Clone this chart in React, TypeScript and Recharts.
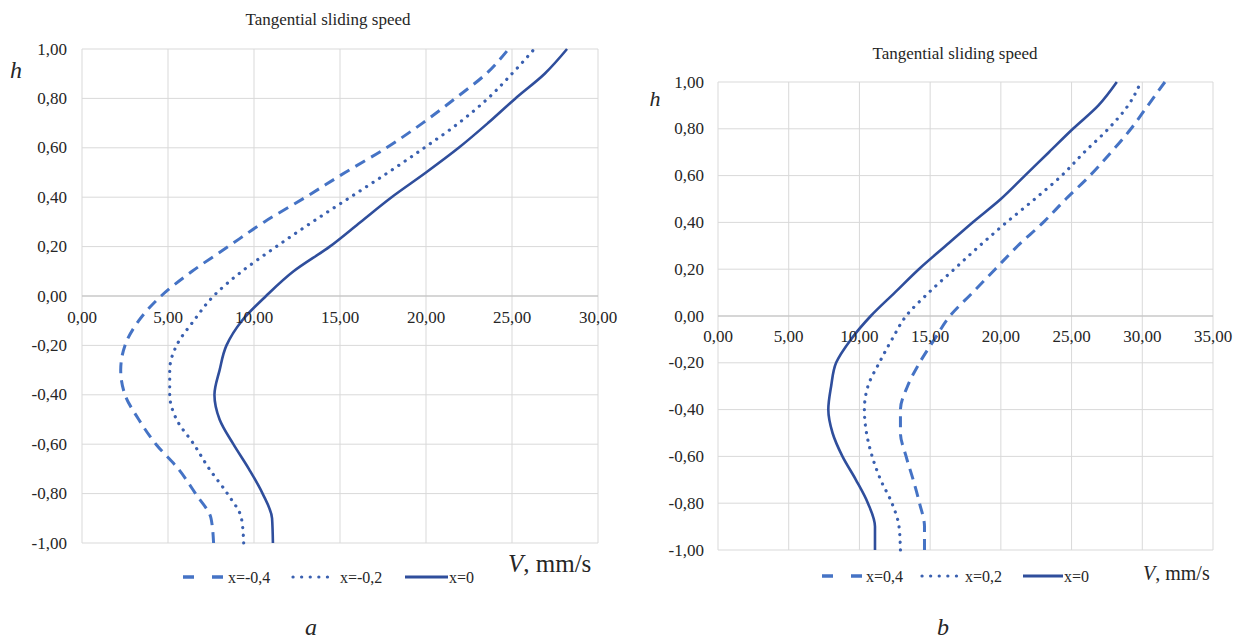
import React from "react";
import { ComposedChart, Line, XAxis, YAxis, CartesianGrid, ReferenceLine } from "recharts";

// ---------- data ----------
const H_LEVELS = [-1, -0.9, -0.8, -0.7, -0.6, -0.5, -0.4, -0.3, -0.2, -0.1, 0, 0.1, 0.2, 0.3, 0.4, 0.5, 0.6, 0.7, 0.8, 0.9, 1];

// panel a
const A_X_M04 = [7.65, 7.5, 6.6, 5.6, 4.3, 3.3, 2.5, 2.25, 2.5, 3.3, 4.6, 6.4, 8.5, 10.6, 13.0, 15.3, 17.7, 19.8, 21.7, 23.5, 24.8];
const A_X_M02 = [9.4, 9.27, 8.45, 7.4, 6.5, 5.5, 5.1, 5.1, 5.5, 6.5, 7.65, 9.3, 11.3, 13.4, 15.6, 17.8, 19.9, 21.9, 23.6, 25.0, 26.3];
const A_X_0 = [11.1, 11.05, 10.5, 9.7, 8.8, 8.0, 7.7, 8.0, 8.4, 9.3, 10.7, 12.3, 14.4, 16.2, 18.0, 20.0, 21.9, 23.6, 25.2, 26.9, 28.2];

// panel b
const B_X_04 = [14.6, 14.6, 14.25, 13.8, 13.3, 12.9, 12.9, 13.4, 14.25, 15.3, 16.4, 18.0, 19.6, 21.2, 23.0, 24.6, 26.3, 27.8, 29.2, 30.4, 31.6];
const B_X_02 = [12.9, 12.8, 12.3, 11.5, 10.9, 10.5, 10.35, 10.6, 11.4, 12.3, 13.3, 14.9, 16.7, 18.5, 20.4, 22.4, 24.3, 25.9, 27.6, 29.0, 29.9];
const B_X_0 = [11.1, 11.1, 10.6, 9.75, 8.8, 8.1, 7.8, 8.0, 8.35, 9.4, 10.8, 12.5, 14.2, 16.1, 18.0, 20.0, 21.7, 23.4, 25.1, 26.9, 28.2];

const H_TICKS = [-1, -0.8, -0.6, -0.4, -0.2, 0, 0.2, 0.4, 0.6, 0.8, 1];
const A_V_TICKS = [0, 5, 10, 15, 20, 25, 30];
const B_V_TICKS = [0, 5, 10, 15, 20, 25, 30, 35];

const A_LABELS = ["x=-0,4", "x=-0,2", "x=0"];
const B_LABELS = ["x=0,4", "x=0,2", "x=0"];
const TITLE = "Tangential sliding speed";

// ---------- styles ----------
const FONT = "Liberation Serif, Tinos, Noto Serif, DejaVu Serif, serif";
const C_DASH = "#4573C5";
const C_DOT = "#3A60B0";
const C_SOLID = "#2F4E9C";
const GRID = "#D9D9D9";
const TEXT = "#262626";

const fmt = (v: number) => v.toFixed(2).replace(".", ",");
const toPts = (vs: number[]) => H_LEVELS.map((h, i) => ({ h, v: vs[i] }));

type PanelProps = {
  left: number; top: number; width: number; height: number;
  margin: { top: number; right: number; bottom: number; left: number };
  yWidth: number; vMax: number; vTicks: number[]; series: number[][];
  tickSize: number; tickGap: number; xLabelDy: number;
};

function Panel(p: PanelProps) {
  const plotH = p.height - p.margin.top - p.margin.bottom - 1;
  const zeroY = p.margin.top + plotH / 2;
  const XTick = (props: any) => (
    <text x={props.x} y={zeroY + p.xLabelDy} textAnchor="middle" dominantBaseline="central"
      fontFamily={FONT} fontSize={p.tickSize} fill={TEXT}>{fmt(props.payload.value)}</text>
  );
  const YTick = (props: any) => (
    <text x={props.x} y={props.y} textAnchor="end" dominantBaseline="central"
      fontFamily={FONT} fontSize={p.tickSize} fill={TEXT}>{fmt(props.payload.value)}</text>
  );
  return (
    <div style={{ position: "absolute", left: p.left, top: p.top }}>
      <ComposedChart width={p.width} height={p.height} margin={p.margin}>
        <CartesianGrid stroke={GRID} strokeWidth={1} />
        <XAxis type="number" dataKey="v" domain={[0, p.vMax]} ticks={p.vTicks} height={1}
          axisLine={false} tickLine={false} tick={XTick} interval={0} allowDataOverflow />
        <YAxis type="number" domain={[-1, 1]} ticks={H_TICKS} width={p.yWidth} interval={0}
          axisLine={false} tickLine={false} tickSize={0} tickMargin={p.tickGap} tick={YTick} />
        <ReferenceLine y={0} stroke="#BFBFBF" strokeWidth={1.2} />
        <Line data={toPts(p.series[0])} dataKey="h" type="monotoneY" stroke={C_DASH} strokeWidth={3}
          strokeDasharray="11 7" dot={false} isAnimationActive={false} />
        <Line data={toPts(p.series[1])} dataKey="h" type="monotoneY" stroke={C_DOT} strokeWidth={3.2}
          strokeDasharray="0.1 7.6" strokeLinecap="round" dot={false} isAnimationActive={false} />
        <Line data={toPts(p.series[2])} dataKey="h" type="monotoneY" stroke={C_SOLID} strokeWidth={2.6}
          dot={false} isAnimationActive={false} />
      </ComposedChart>
    </div>
  );
}

type LegendProps = { y: number; items: { x0: number; x1: number; tx: number; label: string }[]; size: number };

function LegendRow({ y, items, size }: LegendProps) {
  return (
    <g>
      <line x1={items[0].x0} x2={items[0].x1} y1={y} y2={y} stroke={C_DASH} strokeWidth={3.5} strokeDasharray="11 18" />
      <line x1={items[1].x0} x2={items[1].x1} y1={y} y2={y} stroke={C_DOT} strokeWidth={3.2} strokeDasharray="0.1 8.5" strokeLinecap="round" />
      <line x1={items[2].x0} x2={items[2].x1} y1={y} y2={y} stroke={C_SOLID} strokeWidth={3} />
      {items.map((it, i) => (
        <text key={i} x={it.tx} y={y} dominantBaseline="central" fontFamily={FONT} fontSize={size} fill={TEXT}>{it.label}</text>
      ))}
    </g>
  );
}

export default function App() {
  return (
    <div style={{ position: "absolute", left: 0, top: 0, width: 1243, height: 643, background: "#fff", overflow: "hidden" }}>
      <Panel left={0} top={0} width={620} height={600}
        margin={{ top: 49, right: 22, bottom: 56, left: 22 }} yWidth={60}
        vMax={30} vTicks={A_V_TICKS} series={[A_X_M04, A_X_M02, A_X_0]}
        tickSize={17} tickGap={15} xLabelDy={21} />
      <Panel left={620} top={30} width={623} height={570}
        margin={{ top: 52, right: 30, bottom: 49, left: 38 }} yWidth={60}
        vMax={35} vTicks={B_V_TICKS} series={[B_X_04, B_X_02, B_X_0]}
        tickSize={17} tickGap={14} xLabelDy={20} />
      <svg width={1243} height={643} style={{ position: "absolute", left: 0, top: 0, pointerEvents: "none" }}>
        {/* panel a annotations */}
        <text x={328} y={25} textAnchor="middle" fontFamily={FONT} fontSize={17} fill={TEXT}>{TITLE}</text>
        <text x={16} y={78} textAnchor="middle" fontFamily={FONT} fontSize={24} fontStyle="italic" fill={TEXT}>h</text>
        <text x={508} y={572} fontFamily={FONT} fontSize={25} fill={TEXT}>
          <tspan fontStyle="italic">V</tspan>, mm/s
        </text>
        <LegendRow y={577} size={16} items={[
          { x0: 183, x1: 227, tx: 228, label: A_LABELS[0] },
          { x0: 293, x1: 332, tx: 340, label: A_LABELS[1] },
          { x0: 405, x1: 448, tx: 449, label: A_LABELS[2] },
        ]} />
        <text x={311} y={635} textAnchor="middle" fontFamily={FONT} fontSize={24} fontStyle="italic" fill={TEXT}>a</text>

        {/* panel b annotations */}
        <text x={955} y={59} textAnchor="middle" fontFamily={FONT} fontSize={17} fill={TEXT}>{TITLE}</text>
        <text x={655} y={106} textAnchor="middle" fontFamily={FONT} fontSize={22} fontStyle="italic" fill={TEXT}>h</text>
        <text x={1143} y={580} fontFamily={FONT} fontSize={20} fill={TEXT}>
          <tspan fontStyle="italic">V</tspan>, mm/s
        </text>
        <LegendRow y={576} size={16} items={[
          { x0: 822, x1: 863, tx: 866, label: B_LABELS[0] },
          { x0: 922, x1: 958, tx: 965, label: B_LABELS[1] },
          { x0: 1023, x1: 1063, tx: 1064, label: B_LABELS[2] },
        ]} />
        <text x={943} y={635} textAnchor="middle" fontFamily={FONT} fontSize={24} fontStyle="italic" fill={TEXT}>b</text>
      </svg>
    </div>
  );
}
